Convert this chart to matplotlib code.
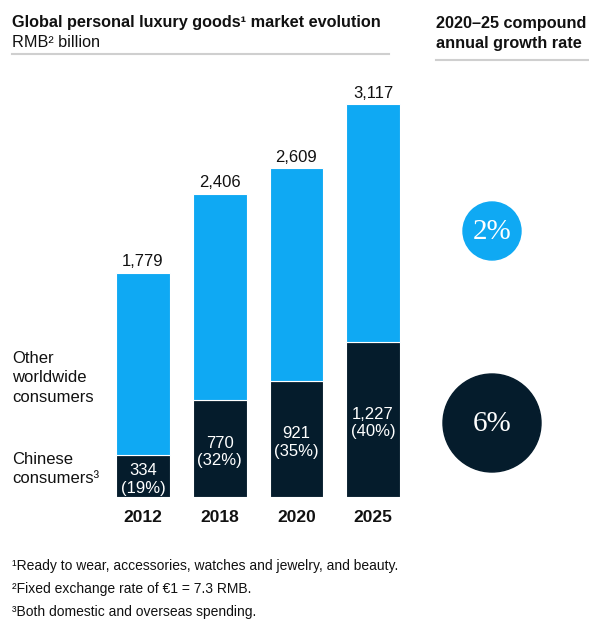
import matplotlib
matplotlib.use("Agg")
import matplotlib.pyplot as plt
from matplotlib.patches import Circle

plt.rcParams['font.family'] = ['Liberation Sans', 'DejaVu Sans']

# data
years = ['2012', '2018', '2020', '2025']
totals = [1779, 2406, 2609, 3117]
chinese = [334, 770, 921, 1227]
chinese_share = ['19%', '32%', '35%', '40%']
cagr_other = '2%'
cagr_chinese = '6%'

navy = '#051C2C'
blue = '#0FA9F3'
ink = '#111111'
W, H = 589, 621


def fx(px):
    return px / W


def fy(py):
    return 1 - py / H


fig = plt.figure(figsize=(W / 100, H / 100), dpi=100)

# headers
fig.text(fx(12), fy(27), 'Global personal luxury goods¹ market evolution',
         fontsize=11.7, fontweight='bold', va='baseline', color=ink)
fig.text(fx(12), fy(47), 'RMB² billion', fontsize=11.7, va='baseline', color=ink)
fig.text(fx(436), fy(28), '2020–25 compound', fontsize=11.7, fontweight='bold',
         va='baseline', color=ink)
fig.text(fx(436), fy(48), 'annual growth rate', fontsize=11.7, fontweight='bold',
         va='baseline', color=ink)
fig.add_artist(plt.Line2D([fx(12), fx(389)], [fy(54), fy(54)], color='#cfcfcf', lw=1.5))
fig.add_artist(plt.Line2D([fx(436), fx(589)], [fy(60), fy(60)], color='#cfcfcf', lw=1.5))

# stacked bars
ax = fig.add_axes([fx(100), fy(497), fx(320), (497 - 90) / H])
x = range(len(years))
others = [t - c for t, c in zip(totals, chinese)]
ax.bar(x, chinese, width=0.70, color=navy, edgecolor='white', linewidth=0.8)
ax.bar(x, others, bottom=chinese, width=0.70, color=blue, edgecolor='white', linewidth=0.8)
ax.set_xlim(-0.561, 3.613)
ax.set_ylim(0, 3228)
ax.axis('off')

for i in x:
    ax.annotate(f'{totals[i]:,}', (i, totals[i]), xytext=(0, 4.5), textcoords='offset points',
                ha='center', va='baseline', fontsize=12, color=ink)
    ax.annotate(f'{chinese[i]:,}\n({chinese_share[i]})', (i, chinese[i] / 2),
                xytext=(0, -2.5), textcoords='offset points', ha='center', va='center',
                fontsize=12, color='white', linespacing=1.2)
    ax.annotate(years[i], (i, 0), xytext=(0, -18), textcoords='offset points',
                ha='center', va='baseline', fontsize=12.5, fontweight='bold', color=ink)

# segment names on the left
fig.text(fx(12), fy(378), 'Other\nworldwide\nconsumers', fontsize=12, va='center',
         color=ink, linespacing=1.4)
fig.text(fx(12), fy(469), 'Chinese\nconsumers³', fontsize=12, va='center',
         color=ink, linespacing=1.4)

# growth rate bubbles
cax = fig.add_axes([0, 0, 1, 1], zorder=-1)
cax.set_xlim(0, W)
cax.set_ylim(H, 0)
cax.set_aspect('equal')
cax.axis('off')
cax.add_patch(Circle((492, 231), 29, color=blue))
cax.add_patch(Circle((492, 423), 49, color=navy))
cax.text(492, 232, cagr_other, ha='center', va='center', fontsize=21,
         family='Liberation Serif', color='white')
cax.text(492, 424, cagr_chinese, ha='center', va='center', fontsize=21,
         family='Liberation Serif', color='white')

# footnotes
notes = ['¹Ready to wear, accessories, watches and jewelry, and beauty.',
         '²Fixed exchange rate of €1 = 7.3 RMB.',
         '³Both domestic and overseas spending.']
for py, note in zip([566, 589, 612], notes):
    fig.text(fx(12), fy(py), note, fontsize=10, va='center', color=ink)

fig.savefig('out.png', dpi=100)
